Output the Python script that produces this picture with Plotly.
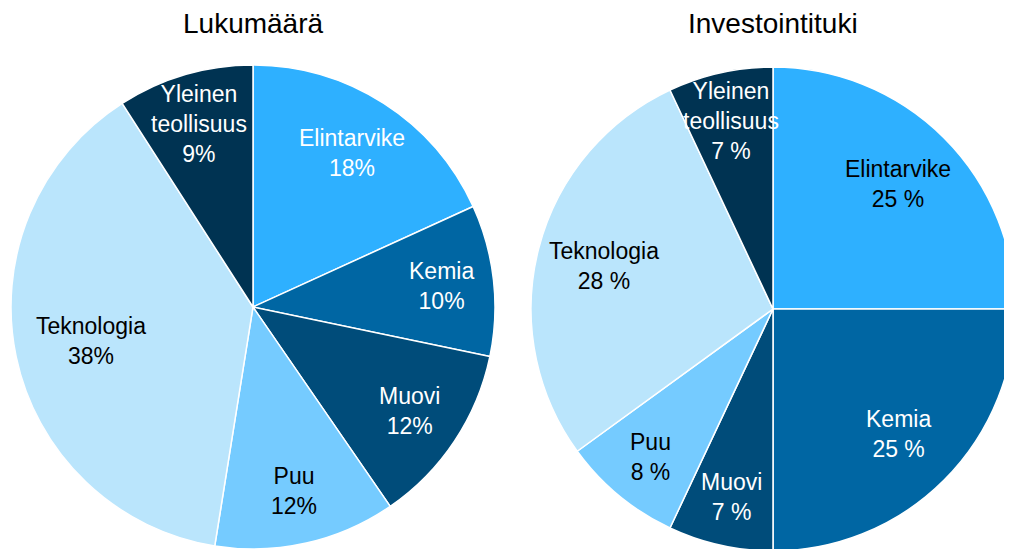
import math
import plotly.graph_objects as go

categories = ["Elintarvike", "Kemia", "Muovi", "Puu", "Teknologia", "Yleinen<br>teollisuus"]
lukumaara = [18, 10, 12, 12, 38, 9]
investointituki = [25, 25, 7, 8, 28, 7]
titles = ["Lukumäärä", "Investointituki"]

colors = ["#2EB0FF", "#0066A3", "#004C7A", "#75CBFF", "#BAE5FC", "#003352"]
left_text_colors = ["white", "white", "white", "black", "black", "white"]
right_text_colors = ["black", "white", "white", "black", "black", "white"]

FONT = "Liberation Sans, Arial, sans-serif"
W, H = 1012, 549
OFF = 8  # default page body margin in the exported html

# pie geometry (screen pixels): center x, center y, radius
pies = [
    dict(cx=253, cy=307, r=242, values=lukumaara, fmt="{}%", tcol=left_text_colors, title=titles[0]),
    dict(cx=773, cy=309, r=242, values=investointituki, fmt="{} %", tcol=right_text_colors, title=titles[1]),
]


def label_radius(share):
    # bigger slices get their labels placed closer to the centre ("best fit")
    return 0.82 - 0.35 * share


fig = go.Figure()
for p in pies:
    fx, fy, r = p["cx"] - OFF, p["cy"] - OFF, p["r"]
    fig.add_trace(go.Pie(
        labels=categories, values=p["values"], textinfo="none",
        sort=False, direction="clockwise", rotation=0,
        marker=dict(colors=colors, line=dict(color="white", width=1.5)),
        domain=dict(x=[(fx - r) / W, (fx + r) / W], y=[(H - fy - r) / H, (H - fy + r) / H]),
        showlegend=False, hoverinfo="label+value",
    ))
    total = sum(p["values"])
    cum = 0
    for cat, v, tc in zip(categories, p["values"], p["tcol"]):
        share = v / total
        mid = (cum + v / 2) / total * 2 * math.pi
        cum += v
        rr = label_radius(share) * r
        lx = fx + rr * math.sin(mid)
        ly = fy - rr * math.cos(mid)
        fig.add_annotation(
            text=f"{cat}<br>{p['fmt'].format(v)}", x=lx / W, y=1 - ly / H,
            xref="paper", yref="paper", showarrow=False,
            xanchor="center", yanchor="middle", align="center",
            font=dict(family=FONT, size=23, color=tc),
        )
    fig.add_annotation(
        text=p["title"], x=fx / W, y=1 - (24 - OFF) / H, xref="paper", yref="paper",
        showarrow=False, xanchor="center", yanchor="middle", borderpad=0,
        font=dict(family=FONT, size=28, color="black"),
    )

fig.update_layout(
    width=W, height=H,
    margin=dict(l=0, r=0, t=0, b=0),
    paper_bgcolor="white", plot_bgcolor="white",
)
fig.write_html("out.html")
